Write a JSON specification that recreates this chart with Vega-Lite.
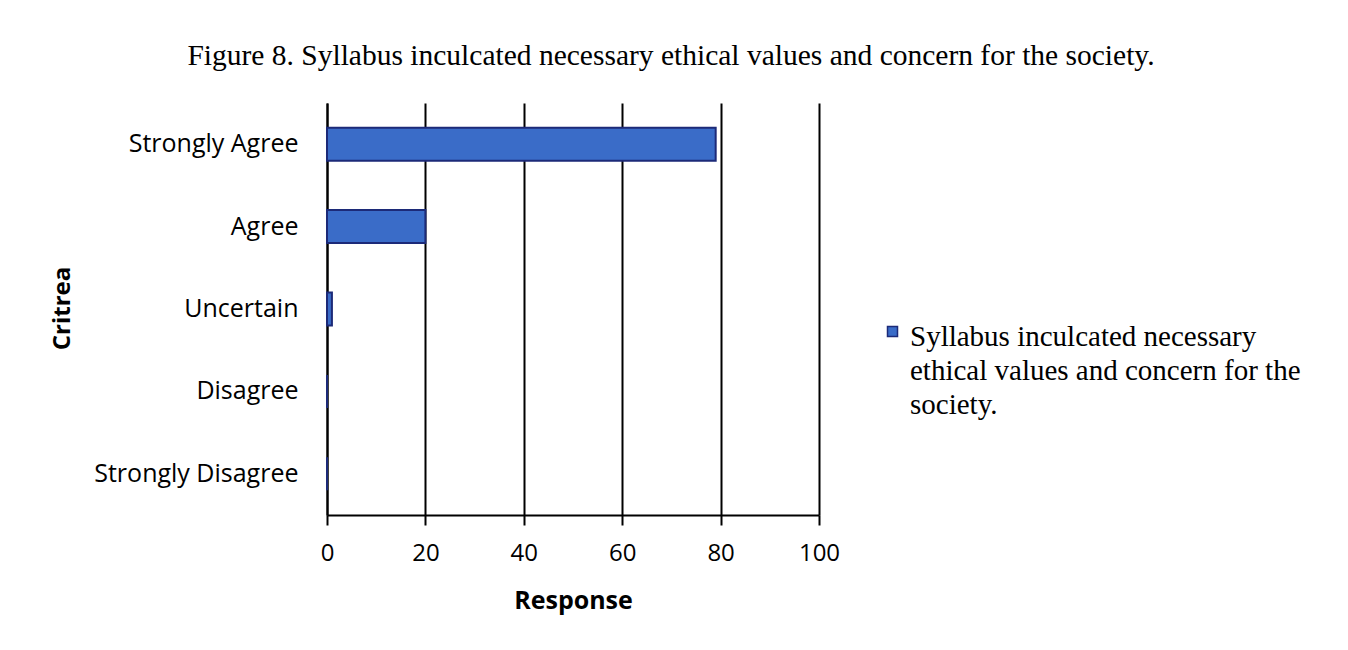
{
  "$schema": "https://vega.github.io/schema/vega-lite/v6.json",
  "width": 492,
  "height": 412,
  "autosize": {"type": "none"},
  "padding": {"left": 327, "top": 103, "right": 529, "bottom": 135},
  "background": "white",
  "title": {
    "text": "Figure 8. Syllabus inculcated necessary ethical values and concern for the society.",
    "font": "Liberation Serif",
    "fontSize": 29.5,
    "fontWeight": "normal",
    "color": "black",
    "anchor": "middle",
    "dx": 98,
    "offset": 32
  },
  "data": {
    "values": [
      {"criteria": "Strongly Agree", "response": 79, "series": "Syllabus inculcated necessary ethical values and concern for the society."},
      {"criteria": "Agree", "response": 20, "series": "Syllabus inculcated necessary ethical values and concern for the society."},
      {"criteria": "Uncertain", "response": 1, "series": "Syllabus inculcated necessary ethical values and concern for the society."},
      {"criteria": "Disagree", "response": 0, "series": "Syllabus inculcated necessary ethical values and concern for the society."},
      {"criteria": "Strongly Disagree", "response": 0, "series": "Syllabus inculcated necessary ethical values and concern for the society."}
    ]
  },
  "mark": {"type": "bar", "stroke": "#1c2a78", "strokeWidth": 2},
  "encoding": {
    "y": {
      "field": "criteria",
      "type": "nominal",
      "sort": ["Strongly Agree", "Agree", "Uncertain", "Disagree", "Strongly Disagree"],
      "scale": {"paddingInner": 0.6, "paddingOuter": 0.3},
      "axis": {
        "title": "Critrea",
        "titleFont": "Open Sans",
        "titleFontSize": 24,
        "titleFontWeight": "bold",
        "titleColor": "black",
        "titleX": -265,
        "titleY": 205,
        "titleBaseline": "middle",
        "titleAlign": "center",
        "titleAngle": 270,
        "labelFont": "Open Sans",
        "labelFontSize": 25,
        "labelColor": "black",
        "labelPadding": 29,
        "labelLimit": 0,
        "ticks": false,
        "domainColor": "black",
        "domainWidth": 2
      }
    },
    "x": {
      "field": "response",
      "type": "quantitative",
      "scale": {"domain": [0, 100]},
      "axis": {
        "title": "Response",
        "titleFont": "Open Sans",
        "titleFontSize": 25,
        "titleFontWeight": "bold",
        "titleColor": "black",
        "titlePadding": 23,
        "labelFont": "Open Sans",
        "labelFontSize": 24,
        "labelColor": "black",
        "labelPadding": 16,
        "labelFlush": false,
        "values": [0, 20, 40, 60, 80, 100],
        "grid": true,
        "gridColor": "black",
        "gridWidth": 2,
        "gridOpacity": 1,
        "tickColor": "black",
        "tickWidth": 2,
        "tickSize": 10,
        "domainColor": "black",
        "domainWidth": 2
      }
    },
    "color": {
      "field": "series",
      "type": "nominal",
      "scale": {"range": ["#3a6cc8"]},
      "legend": {
        "title": null,
        "orient": "none",
        "legendX": 551,
        "legendY": 214,
        "labelFont": "Liberation Serif",
        "labelFontSize": 29,
        "labelColor": "black",
        "labelLimit": 0,
        "labelExpr": "['Syllabus inculcated necessary', 'ethical values and concern for the', 'society.']",
        "symbolType": "square",
        "symbolSize": 100,
        "symbolStrokeColor": "#1c2a78",
        "symbolStrokeWidth": 1.5,
        "labelOffset": 3,
        "encode": {"labels": {"update": {"lineHeight": {"value": 34}, "dy": {"value": 5}}}}
      }
    }
  },
  "config": {"view": {"stroke": null}}
}
